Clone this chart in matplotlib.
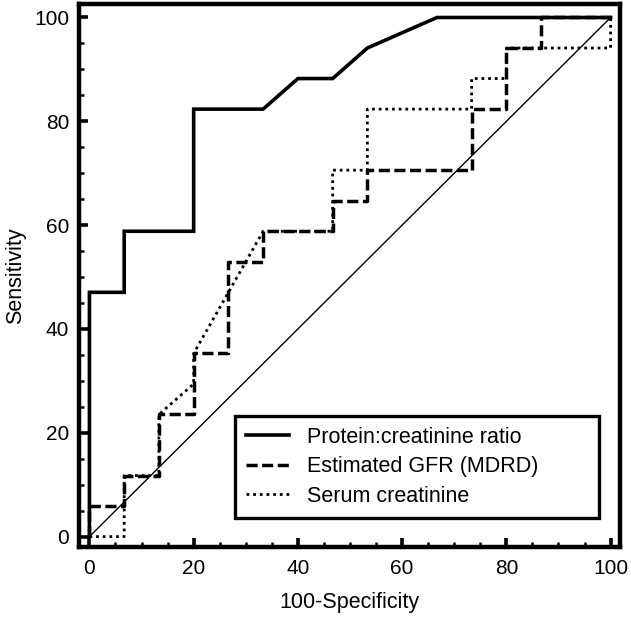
import matplotlib
matplotlib.use("Agg")
import matplotlib.pyplot as plt
from matplotlib.ticker import MultipleLocator

plt.rcParams['font.family'] = ['Liberation Sans', 'DejaVu Sans']

# Data (100-Specificity, Sensitivity)
pcr_x = [0, 0, 6.67, 6.67, 20, 20, 33.33, 40, 46.67, 53.33, 66.67, 100]
pcr_y = [0, 47.06, 47.06, 58.82, 58.82, 82.35, 82.35, 88.24, 88.24, 94.12, 100, 100]

gfr_x = [0, 0, 6.67, 6.67, 13.33, 13.33, 20, 20, 26.67, 26.67, 33.33, 33.33,
         46.67, 46.67, 53.33, 53.33, 73.33, 73.33, 80, 80, 86.67, 86.67, 100]
gfr_y = [0, 5.88, 5.88, 11.76, 11.76, 23.53, 23.53, 35.29, 35.29, 52.94, 52.94, 58.82,
         58.82, 64.71, 64.71, 70.59, 70.59, 82.35, 82.35, 94.12, 94.12, 100, 100]

scr_x = [0, 6.67, 6.67, 13.33, 13.33, 20, 20, 26.67, 33.33, 46.67, 46.67, 53.33, 53.33,
         73.33, 73.33, 80, 80, 100, 100]
scr_y = [0, 0, 11.76, 11.76, 23.53, 29.41, 35.29, 47.06, 58.82, 58.82, 70.59, 70.59, 82.35,
         82.35, 88.24, 88.24, 94.12, 94.12, 100]

ref_x = [0, 100]
ref_y = [0, 100]

labels = ["Protein:creatinine ratio", "Estimated GFR (MDRD)", "Serum creatinine"]
xticks = [0, 20, 40, 60, 80, 100]
yticks = [0, 20, 40, 60, 80, 100]

fig = plt.figure(figsize=(6.31, 6.17), dpi=100)
ax = fig.add_axes([79/631, 1 - 547/617, (620-79)/631, (547-4)/617])

ax.plot(ref_x, ref_y, color='black', lw=1.0, zorder=2)
ax.plot(pcr_x, pcr_y, color='black', lw=2.6, ls='-', label=labels[0], zorder=4,
        solid_joinstyle='miter')
ax.plot(gfr_x, gfr_y, color='black', lw=2.5, ls=(0, (3.2, 1.3)), label=labels[1], zorder=3)
ax.plot(scr_x, scr_y, color='black', lw=2.0, ls=(0, (1.0, 1.4)), label=labels[2], zorder=3)

ax.set_xlim(-2, 101.8)
ax.set_ylim(-2, 102.6)
ax.set_xticks(xticks)
ax.set_yticks(yticks)
ax.xaxis.set_minor_locator(MultipleLocator(5))
ax.yaxis.set_minor_locator(MultipleLocator(5))

for s in ax.spines.values():
    s.set_linewidth(3.2)

ax.tick_params(which='major', direction='in', length=6.5, width=2.6, labelsize=15)
ax.tick_params(axis='x', which='major', pad=9)
ax.tick_params(axis='y', which='major', pad=7)
ax.tick_params(which='minor', direction='in', length=3.5, width=1.8)

ax.set_xlabel("100-Specificity", fontsize=15.5, labelpad=10)
ax.set_ylabel("Sensitivity", fontsize=15.5, labelpad=6)

x0 = (235 - 79) / 541
y0 = (547 - 516) / 543
w = (599 - 235) / 541
h = (516 - 416) / 543
leg = ax.legend(loc='upper left', bbox_to_anchor=(x0, y0, w, h), mode='expand',
                borderaxespad=0, fontsize=15.5, frameon=True, fancybox=False,
                handlelength=2.0, handletextpad=0.85, labelspacing=0.4,
                borderpad=0.5)
frame = leg.get_frame()
frame.set_edgecolor('black')
frame.set_linewidth(2.4)
frame.set_alpha(1)

fig.savefig("out.png", dpi=100)
